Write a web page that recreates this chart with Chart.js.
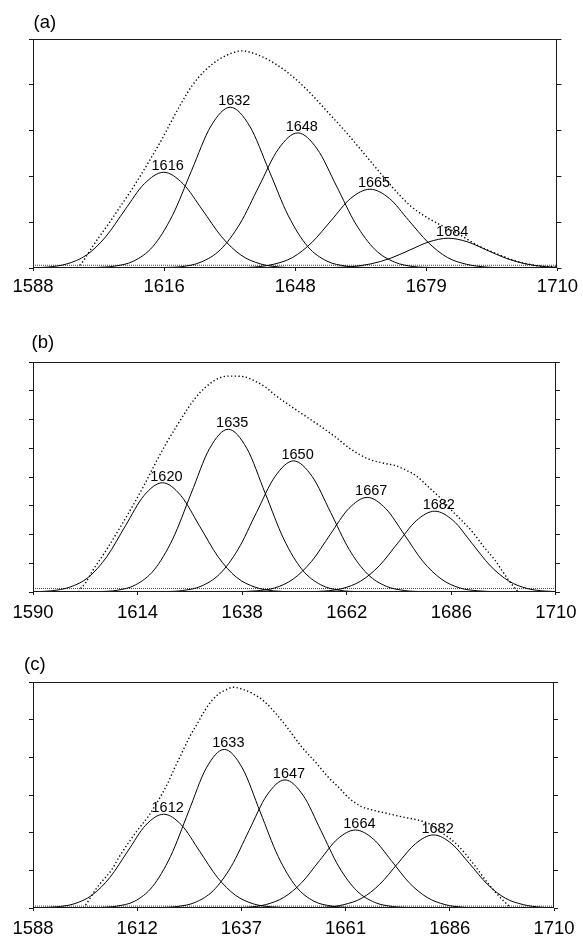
<!DOCTYPE html>
<html><head><meta charset="utf-8">
<script src="https://cdn.jsdelivr.net/npm/chart.js@4"></script>
<style>
html,body{margin:0;padding:0;background:#fff;}
canvas{position:absolute;left:0;}
</style></head><body>
<canvas id="cA" width="583" height="300" style="top:0px"></canvas>
<canvas id="cB" width="583" height="320" style="top:300px"></canvas>
<canvas id="cC" width="583" height="316" style="top:620px"></canvas>
<script>
// ---------- Panel (a) ----------
const aTickValues = [1588, 1618.5, 1649, 1679.5, 1710];
const aTickLabels = ['1588', '1616', '1648', '1679', '1710'];
const aPeakLabels = ['1616', '1632', '1648', '1665', '1684'];
const a1616 = [[1586.9,0.00],[1591.4,0.02],[1595.9,0.09],[1600.4,0.28],[1604.9,0.68],[1609.4,1.27],[1613.9,1.84],[1618.4,2.09],[1622.9,1.84],[1627.4,1.27],[1631.9,0.68],[1636.4,0.28],[1640.9,0.09],[1645.4,0.02],[1649.9,0.00]];
const a1632 = [[1602.4,0.01],[1606.9,0.04],[1611.4,0.15],[1615.9,0.47],[1620.4,1.14],[1624.9,2.13],[1629.4,3.10],[1633.9,3.51],[1638.4,3.10],[1642.9,2.13],[1647.4,1.14],[1651.9,0.47],[1656.4,0.15],[1660.9,0.04],[1665.4,0.01]];
const a1648 = [[1618.1,0.01],[1622.6,0.03],[1627.1,0.13],[1631.6,0.40],[1636.1,0.96],[1640.6,1.79],[1645.1,2.60],[1649.6,2.95],[1654.1,2.60],[1658.6,1.79],[1663.1,0.96],[1667.6,0.40],[1672.1,0.13],[1676.6,0.03],[1681.1,0.01]];
const a1665 = [[1634.9,0.00],[1639.4,0.02],[1643.9,0.08],[1648.4,0.23],[1652.9,0.56],[1657.4,1.04],[1661.9,1.52],[1666.4,1.72],[1670.9,1.52],[1675.4,1.04],[1679.9,0.56],[1684.4,0.23],[1688.9,0.08],[1693.4,0.02],[1697.9,0.00]];
const a1684 = [[1653.1,0.00],[1657.6,0.01],[1662.1,0.03],[1666.6,0.09],[1671.1,0.21],[1675.6,0.39],[1680.1,0.57],[1684.6,0.65],[1689.1,0.57],[1693.6,0.39],[1698.1,0.21],[1702.6,0.09],[1707.1,0.03],[1711.6,0.01],[1716.1,0.00]];
const aEnvelope = [[1598.3,0.00],[1599.6,0.14],[1601.1,0.36],[1603.4,0.68],[1605.7,0.98],[1608.0,1.30],[1610.4,1.63],[1612.7,1.97],[1615.0,2.33],[1618.1,2.83],[1620.4,3.24],[1622.7,3.63],[1625.0,3.98],[1628.1,4.32],[1631.2,4.55],[1634.2,4.69],[1636.6,4.74],[1640.4,4.65],[1645.0,4.42],[1648.9,4.14],[1652.7,3.80],[1656.6,3.40],[1660.5,3.00],[1664.3,2.58],[1668.2,2.14],[1672.8,1.64],[1675.9,1.35],[1679.7,1.10],[1682.8,0.94],[1686.7,0.76],[1691.3,0.50],[1695.9,0.31],[1700.5,0.15],[1705.2,0.05],[1710.0,0.02]];
const aBaseline = [[1588,0.06],[1710,0.06]];

// ---------- Panel (b) ----------
const bTickValues = [1590, 1614, 1638, 1662, 1686, 1710];
const bTickLabels = ['1590', '1614', '1638', '1662', '1686', '1710'];
const bPeakLabels = ['1620', '1635', '1650', '1667', '1682'];
const b1620 = [[1589.95,0.01],[1594.2,0.04],[1598.45,0.17],[1602.7,0.51],[1606.95,1.23],[1611.2,2.30],[1615.45,3.35],[1619.7,3.80],[1623.95,3.35],[1628.2,2.30],[1632.45,1.23],[1636.7,0.51],[1640.95,0.17],[1645.2,0.04],[1649.45,0.01]];
const b1635 = [[1605.05,0.01],[1609.3,0.06],[1613.55,0.25],[1617.8,0.77],[1622.05,1.84],[1626.3,3.43],[1630.55,5.00],[1634.8,5.66],[1639.05,5.00],[1643.3,3.43],[1647.55,1.84],[1651.8,0.77],[1656.05,0.25],[1660.3,0.06],[1664.55,0.01]];
const b1650 = [[1620.05,0.01],[1624.3,0.05],[1628.55,0.20],[1632.8,0.62],[1637.05,1.48],[1641.3,2.77],[1645.55,4.02],[1649.8,4.56],[1654.05,4.02],[1658.3,2.77],[1662.55,1.48],[1666.8,0.62],[1671.05,0.20],[1675.3,0.05],[1679.55,0.01]];
const b1667 = [[1636.95,0.01],[1641.2,0.04],[1645.45,0.14],[1649.7,0.45],[1653.95,1.07],[1658.2,2.00],[1662.45,2.90],[1666.7,3.29],[1670.95,2.90],[1675.2,2.00],[1679.45,1.07],[1683.7,0.45],[1687.95,0.14],[1692.2,0.04],[1696.45,0.01]];
const b1682 = [[1652.45,0.01],[1656.7,0.03],[1660.95,0.12],[1665.2,0.38],[1669.45,0.91],[1673.7,1.70],[1677.95,2.48],[1682.2,2.81],[1686.45,2.48],[1690.7,1.70],[1694.95,0.91],[1699.2,0.38],[1703.45,0.12],[1707.7,0.03],[1711.95,0.01]];
const bEnvelope = [[1600.5,0.00],[1600.7,0.07],[1602.0,0.30],[1603.6,0.72],[1607.0,1.50],[1610.4,2.35],[1612.9,3.00],[1615.8,3.80],[1618.0,4.45],[1620.5,5.15],[1623.1,5.80],[1625.6,6.40],[1628.1,6.90],[1630.7,7.26],[1633.2,7.47],[1635.4,7.51],[1638.3,7.49],[1640.9,7.34],[1643.4,7.12],[1645.9,6.81],[1649.3,6.45],[1652.7,6.10],[1656.1,5.75],[1659.5,5.38],[1662.9,4.97],[1667.1,4.62],[1670.5,4.48],[1673.1,4.40],[1675.6,4.24],[1678.2,4.01],[1680.7,3.66],[1683.2,3.31],[1685.8,2.88],[1688.3,2.50],[1690.9,2.08],[1693.4,1.58],[1696.0,1.11],[1698.5,0.55],[1700.6,0.13],[1701.2,0.03]];
const bBaseline = [[1590,0.12],[1710,0.12]];

// ---------- Panel (c) ----------
const cTickValues = [1588, 1612.4, 1636.8, 1661.2, 1685.6, 1710];
const cTickLabels = ['1588', '1612', '1637', '1661', '1686', '1710'];
const cPeakLabels = ['1612', '1633', '1647', '1664', '1682'];
const c1612 = [[1589.2,0.01],[1593.4,0.03],[1597.6,0.11],[1601.8,0.34],[1606.0,0.81],[1610.2,1.51],[1614.4,2.20],[1618.6,2.49],[1622.8,2.20],[1627.0,1.51],[1631.2,0.81],[1635.4,0.34],[1639.6,0.11],[1643.8,0.03],[1648.0,0.01]];
const c1633 = [[1603.4,0.01],[1607.6,0.05],[1611.8,0.18],[1616.0,0.57],[1620.2,1.37],[1624.4,2.55],[1628.6,3.72],[1632.8,4.21],[1637.0,3.72],[1641.2,2.55],[1645.4,1.37],[1649.6,0.57],[1653.8,0.18],[1658.0,0.05],[1662.2,0.01]];
const c1647 = [[1617.6,0.01],[1621.8,0.04],[1626.0,0.15],[1630.2,0.46],[1634.4,1.10],[1638.6,2.06],[1642.8,3.00],[1647.0,3.40],[1651.2,3.00],[1655.4,2.06],[1659.6,1.10],[1663.8,0.46],[1668.0,0.15],[1672.2,0.04],[1676.4,0.01]];
const c1664 = [[1634.1,0.00],[1638.3,0.02],[1642.5,0.09],[1646.7,0.28],[1650.9,0.67],[1655.1,1.26],[1659.3,1.83],[1663.5,2.07],[1667.7,1.83],[1671.9,1.26],[1676.1,0.67],[1680.3,0.28],[1684.5,0.09],[1688.7,0.02],[1692.9,0.00]];
const c1682 = [[1652.4,0.00],[1656.6,0.02],[1660.8,0.09],[1665.0,0.26],[1669.2,0.63],[1673.4,1.18],[1677.6,1.71],[1681.8,1.94],[1686.0,1.71],[1690.2,1.18],[1694.4,0.63],[1698.6,0.26],[1702.8,0.09],[1707.0,0.02],[1711.2,0.00]];
const cEnvelope = [[1599.8,0.00],[1600.7,0.14],[1602.3,0.43],[1603.8,0.66],[1606.4,1.01],[1608.2,1.36],[1610.3,1.72],[1612.5,2.07],[1615.1,2.45],[1617.3,2.85],[1619.5,3.30],[1621.3,3.75],[1623.0,4.15],[1624.7,4.55],[1626.5,4.90],[1628.2,5.24],[1630.0,5.52],[1631.7,5.70],[1633.5,5.81],[1634.8,5.86],[1637.0,5.81],[1639.6,5.68],[1642.2,5.48],[1644.8,5.17],[1647.4,4.81],[1650.9,4.28],[1654.4,3.84],[1657.0,3.49],[1659.6,3.20],[1662.2,2.90],[1664.8,2.70],[1667.5,2.60],[1671.0,2.51],[1674.4,2.42],[1677.9,2.34],[1680.5,2.25],[1684.0,1.98],[1687.5,1.66],[1691.0,1.19],[1694.5,0.66],[1698.0,0.21],[1699.7,0.03]];
const cBaseline = [[1588,0.05],[1710,0.05]];

// ---------- rendering ----------
const FONT = '"Liberation Sans", Arial, Helvetica, sans-serif';
const toXY = arr => arr.map(p => ({x: p[0], y: p[1]}));

const framePlugin = {
  id: 'frame',
  afterDatasetsDraw(chart) {
    const a = chart.chartArea, ctx = chart.ctx;
    ctx.save();
    ctx.strokeStyle = '#1a1a1a';
    ctx.lineWidth = 1;
    ctx.strokeRect(Math.round(a.left) + 0.5, Math.round(a.top) + 0.5,
                   Math.round(a.right - a.left) - 1, Math.round(a.bottom - a.top) - 1);
    // peak labels anchored at each component's maximum point
    ctx.fillStyle = '#000';
    ctx.font = '14.5px ' + FONT;
    ctx.textAlign = 'center';
    ctx.textBaseline = 'alphabetic';
    chart.data.datasets.forEach((ds, i) => {
      if (!ds.peakLabel) return;
      let best = 0;
      ds.data.forEach((p, j) => { if (p.y > ds.data[best].y) best = j; });
      const el = chart.getDatasetMeta(i).data[best];
      ctx.fillText(ds.peakLabel, el.x + 4, el.y - 2);
    });
    // panel letter
    const o = chart.options.plugins.frame;
    ctx.textAlign = 'left';
    ctx.font = '18.5px ' + FONT;
    ctx.fillText(o.letter, o.lx, o.ly);
    ctx.restore();
  }
};

function makePanel(id, P) {
  const canvas = document.getElementById(id);
  const W = canvas.width, H = canvas.height;
  const datasets = [];
  datasets.push({data: toXY(P.envelope), borderColor: '#000', borderWidth: 1.4,
                 borderDash: [1.3, 2.4], cubicInterpolationMode: 'monotone', pointRadius: 0});
  P.peaks.forEach((pk, i) => {
    datasets.push({data: toXY(pk), peakLabel: P.peakLabels[i], borderColor: '#000',
                   borderWidth: 1, cubicInterpolationMode: 'monotone', pointRadius: 0});
  });
  datasets.push({data: toXY(P.baseline), borderColor: '#444', borderWidth: 1,
                 borderDash: [1, 1], pointRadius: 0});
  const yGrid = {drawOnChartArea: false, drawTicks: true, tickLength: 4, color: '#1a1a1a', lineWidth: 1};
  return new Chart(canvas, {
    type: 'line',
    data: {datasets},
    options: {
      responsive: false, animation: false, devicePixelRatio: 1,
      layout: {padding: {top: P.top, left: 0, right: 0, bottom: 0}, autoPadding: false},
      plugins: {legend: {display: false}, tooltip: {enabled: false},
                frame: {letter: P.letter, lx: P.lx, ly: P.ly}},
      elements: {point: {radius: 0}, line: {borderCapStyle: 'butt'}},
      scales: {
        x: {type: 'linear', position: 'bottom', min: P.xMin, max: P.xMax,
            afterBuildTicks: s => { s.ticks = P.tickValues.map(v => ({value: v})); },
            afterFit: s => { s.height = H - P.bottom; },
            grid: {drawOnChartArea: false, drawTicks: true, tickLength: 3, color: '#1a1a1a'},
            border: {display: false},
            ticks: {autoSkip: false, maxRotation: 0, minRotation: 0, padding: P.tickPad, color: '#000',
                    font: {family: FONT, size: 18.5},
                    callback: (v, i) => P.tickLabels[i]}},
        y: {type: 'linear', position: 'left', min: 0, max: P.yMax,
            afterFit: s => { s.width = P.left; },
            grid: yGrid, border: {display: false},
            ticks: {display: false, stepSize: 1}},
        y2: {type: 'linear', position: 'right', min: 0, max: P.yMax,
             afterFit: s => { s.width = W - P.right; },
             grid: yGrid, border: {display: false},
             ticks: {display: false, stepSize: 1}}
      }
    },
    plugins: [framePlugin]
  });
}

makePanel('cA', {letter: '(a)', lx: 33.5, ly: 28, top: 39, bottom: 268, left: 33, right: 561, tickPad: 5,
  xMin: 1588, xMax: 1710, yMax: 5, tickValues: aTickValues, tickLabels: aTickLabels,
  peakLabels: aPeakLabels, peaks: [a1616, a1632, a1648, a1665, a1684],
  envelope: aEnvelope, baseline: aBaseline});
makePanel('cB', {letter: '(b)', lx: 31.5, ly: 48, top: 62, bottom: 292, left: 33, right: 560, tickPad: 6.5,
  xMin: 1590, xMax: 1710, yMax: 8, tickValues: bTickValues, tickLabels: bTickLabels,
  peakLabels: bPeakLabels, peaks: [b1620, b1635, b1650, b1667, b1682],
  envelope: bEnvelope, baseline: bBaseline});
makePanel('cC', {letter: '(c)', lx: 24, ly: 49.5, top: 62, bottom: 288, left: 33, right: 554, tickPad: 7,
  xMin: 1588, xMax: 1710, yMax: 6, tickValues: cTickValues, tickLabels: cTickLabels,
  peakLabels: cPeakLabels, peaks: [c1612, c1633, c1647, c1664, c1682],
  envelope: cEnvelope, baseline: cBaseline});
</script>
</body></html>
